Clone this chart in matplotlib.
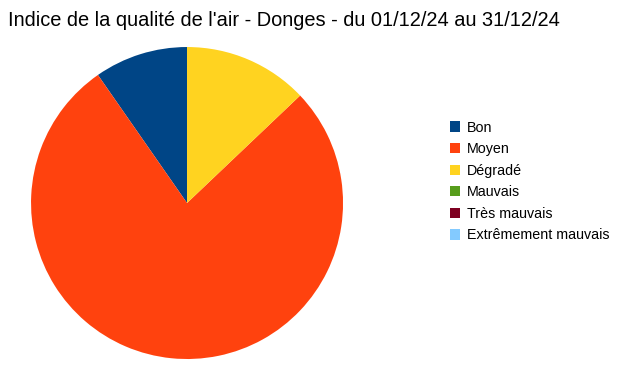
import matplotlib
matplotlib.use("Agg")
import matplotlib.pyplot as plt
from matplotlib.patches import Patch

plt.rcParams["font.family"] = ["Liberation Sans", "DejaVu Sans"]

categories = ["Bon", "Moyen", "Dégradé", "Mauvais", "Très mauvais", "Extrêmement mauvais"]
days = [3, 24, 4, 0, 0, 0]
colors = ["#004586", "#ff420e", "#ffd320", "#579d1c", "#7e0021", "#83caff"]

fig = plt.figure(figsize=(6.18, 3.72), dpi=100)
ax = fig.add_axes([0.0502, 0.0349, 0.5049, 0.8387])

# keep only non-empty slices in the pie, but every category in the legend
vals = [v for v in days if v > 0]
cols = [c for v, c in zip(days, colors) if v > 0]
ax.pie(vals, colors=cols, startangle=90, counterclock=True,
       wedgeprops=dict(linewidth=0))
ax.set_aspect("equal")
ax.set_xlim(-1, 1)
ax.set_ylim(-1, 1)

fig.text(0.013, 0.945, "Indice de la qualité de l'air - Donges - du 01/12/24 au 31/12/24",
         fontsize=14.4, va="center", ha="left")

handles = [Patch(facecolor=c, edgecolor="none") for c in colors]
fig.legend(handles, categories, loc="upper left", bbox_to_anchor=(0.728, 0.676),
           frameon=False, fontsize=10.3, handlelength=0.72, handleheight=0.72,
           handletextpad=0.45, labelspacing=0.53, borderaxespad=0, borderpad=0)

fig.savefig("out.png", dpi=100)
